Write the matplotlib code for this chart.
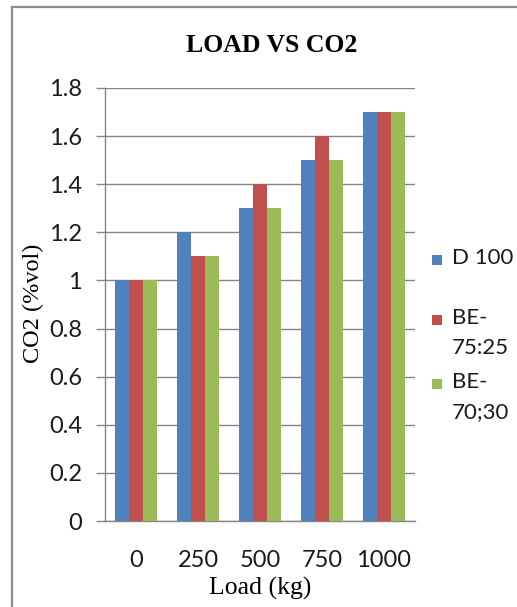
import matplotlib
matplotlib.use("Agg")
import matplotlib.pyplot as plt
from matplotlib.lines import Line2D
from matplotlib.patches import Rectangle
import numpy as np

# load steps and CO2 readings for each fuel blend
loads = ["0", "250", "500", "750", "1000"]
d100 = [1.0, 1.2, 1.3, 1.5, 1.7]
be_75_25 = [1.0, 1.1, 1.4, 1.6, 1.7]
be_70_30 = [1.0, 1.1, 1.3, 1.5, 1.7]
series_names = ["D 100", "BE-\n75:25", "BE-\n70;30"]
colors = ["#4F81BD", "#C0504D", "#9BBB59"]
y_ticks = [0, 0.2, 0.4, 0.6, 0.8, 1.0, 1.2, 1.4, 1.6, 1.8]

W, H = 517, 607
fig = plt.figure(figsize=(W / 100, H / 100), dpi=100)
ax = fig.add_axes([105 / W, 1 - 521 / H, 310 / W, 433 / H])

grid_col = "#868686"
x = np.arange(len(loads))
bw = 1 / 4.5
for k, (vals, c) in enumerate(zip([d100, be_75_25, be_70_30], colors)):
    ax.bar(x + (k - 1) * bw, vals, bw, color=c, zorder=3, label=series_names[k])

ax.set_xlim(-0.5, len(loads) - 0.5)
ax.set_ylim(0, 1.8)
ax.set_yticks(y_ticks)
ax.set_yticklabels([f"{v:g}" for v in y_ticks])
ax.set_xticks(x)
ax.set_xticklabels(loads)
ax.yaxis.grid(True, color=grid_col, linewidth=1.0, zorder=0)
ax.set_axisbelow(True)

for s in ["top", "right"]:
    ax.spines[s].set_visible(False)
for s in ["left", "bottom"]:
    ax.spines[s].set_color(grid_col)
    ax.spines[s].set_linewidth(1.0)

tick_font = "Lato"
ax.tick_params(axis="y", direction="out", length=6.5, width=1.0, color=grid_col,
               pad=10, labelsize=17)
ax.tick_params(axis="x", length=0, pad=21, labelsize=17)
for t in ax.get_xticklabels() + ax.get_yticklabels():
    t.set_fontfamily(tick_font)
    t.set_color("#1a1a1a")

fig.text(272 / W, 1 - 52 / H, "LOAD VS CO2", ha="center", va="baseline",
         fontfamily="Liberation Serif", fontweight="bold", fontsize=18.5)
fig.text(33 / W, 1 - 303 / H, "CO2 (%vol)", ha="center", va="center", rotation=90,
         fontfamily="Liberation Serif", fontsize=17.5)
fig.text(260 / W, 1 - 595 / H, "Load (kg)", ha="center", va="baseline",
         fontfamily="Liberation Serif", fontsize=18.5)

# legend: square key lines up with the first line of each label
key_rows = [260, 320, 384]
for name, c, yr in zip(series_names, colors, key_rows):
    fig.add_artist(Rectangle((432 / W, 1 - (yr + 5) / H), 10 / W, 10 / H,
                             transform=fig.transFigure, facecolor=c, edgecolor="none"))
    fig.text(452 / W, 1 - (yr - 12) / H, name, ha="left", va="top", linespacing=1.65,
             fontfamily=tick_font, fontsize=16, color="#1a1a1a")

# chart area border, only left and top edges remain in frame
fig.add_artist(Line2D([12 / W, 12 / W], [1 - 7 / H, 0], transform=fig.transFigure,
                      color="#8c8c8c", linewidth=1.6))
fig.add_artist(Line2D([12 / W, 1], [1 - 7 / H, 1 - 7 / H], transform=fig.transFigure,
                      color="#8c8c8c", linewidth=1.6))

fig.savefig("out.png", dpi=100)
